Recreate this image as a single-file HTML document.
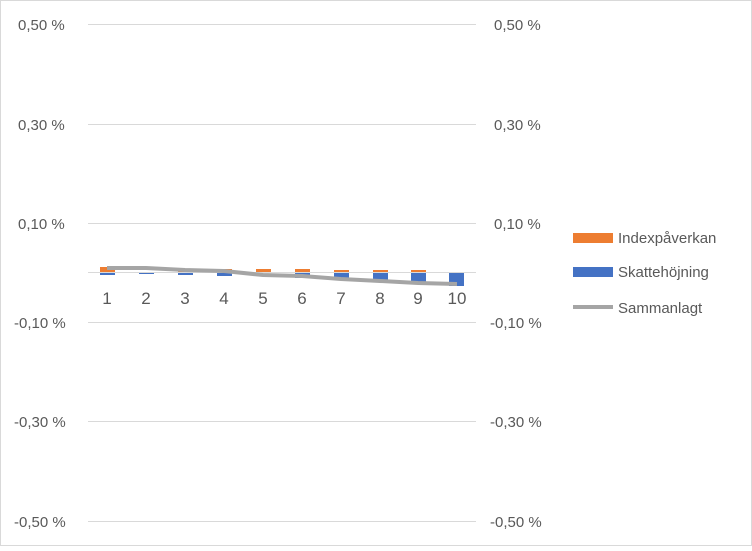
<!DOCTYPE html><html><head><style>body{margin:0}svg text{font-family:"Liberation Sans",sans-serif;font-size:15px;fill:#595959}</style></head><body>
<svg width="752" height="546" xmlns="http://www.w3.org/2000/svg">
<rect x="0.5" y="0.5" width="751" height="545" fill="#fff" stroke="#d9d9d9"/>
<g stroke="#d9d9d9" stroke-width="1">
<line x1="88" x2="476" y1="24.5" y2="24.5"/><line x1="88" x2="476" y1="124.5" y2="124.5"/><line x1="88" x2="476" y1="223.5" y2="223.5"/><line x1="88" x2="476" y1="322.5" y2="322.5"/><line x1="88" x2="476" y1="421.5" y2="421.5"/><line x1="88" x2="476" y1="521.5" y2="521.5"/>
<line x1="88" x2="476" y1="272.5" y2="272.5"/>
</g>
<g>
<text x="18" y="30">0,50 %</text><text x="18" y="130">0,30 %</text><text x="18" y="229">0,10 %</text><text x="14" y="328">-0,10 %</text><text x="14" y="427">-0,30 %</text><text x="14" y="527">-0,50 %</text>
<text x="494" y="30">0,50 %</text><text x="494" y="130">0,30 %</text><text x="494" y="229">0,10 %</text><text x="490" y="328">-0,10 %</text><text x="490" y="427">-0,30 %</text><text x="490" y="527">-0,50 %</text>
</g>
<g fill="#ed7d31">
<rect x="100" y="267" width="15" height="5"/><rect x="178" y="269" width="15" height="3"/><rect x="217" y="269" width="15" height="3"/><rect x="256" y="269" width="15" height="3"/><rect x="295" y="269" width="15" height="3"/><rect x="334" y="270" width="15" height="2"/><rect x="373" y="270" width="15" height="2"/><rect x="411" y="270" width="15" height="2"/>
</g>
<g fill="#4472c4">
<rect x="100" y="273" width="15" height="2"/><rect x="139" y="273" width="15" height="1"/><rect x="178" y="273" width="15" height="2"/><rect x="217" y="273" width="15" height="3"/><rect x="295" y="273" width="15" height="5"/><rect x="334" y="273" width="15" height="6"/><rect x="373" y="273" width="15" height="8"/><rect x="411" y="273" width="15" height="9"/><rect x="449" y="273" width="15" height="13"/>
</g>
<polyline fill="none" stroke="#a5a5a5" stroke-width="4" stroke-linejoin="round" points="107,268 146,268 185,270 224,271 263,275 302,276 341,279 380,281 418,283 457,284"/>
<g text-anchor="middle" style="font-size:17px"><text x="107" y="304" style="font-size:17px">1</text><text x="146" y="304" style="font-size:17px">2</text><text x="185" y="304" style="font-size:17px">3</text><text x="224" y="304" style="font-size:17px">4</text><text x="263" y="304" style="font-size:17px">5</text><text x="302" y="304" style="font-size:17px">6</text><text x="341" y="304" style="font-size:17px">7</text><text x="380" y="304" style="font-size:17px">8</text><text x="418" y="304" style="font-size:17px">9</text><text x="457" y="304" style="font-size:17px">10</text></g>
<rect x="573" y="233" width="40" height="10" fill="#ed7d31"/><text x="618" y="243">Indexpåverkan</text>
<rect x="573" y="267" width="40" height="10" fill="#4472c4"/><text x="618" y="277">Skattehöjning</text>
<line x1="573" x2="613" y1="307" y2="307" stroke="#a5a5a5" stroke-width="4"/><text x="618" y="313">Sammanlagt</text>
</svg></body></html>
